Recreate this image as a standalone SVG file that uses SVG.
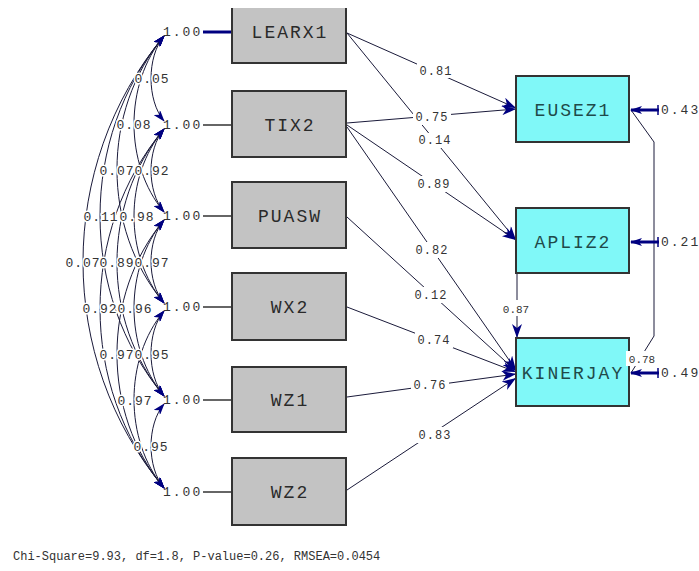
<svg xmlns="http://www.w3.org/2000/svg" width="699" height="571" viewBox="0 0 699 571">
<style>
.gbox{fill:#c3c3c3;stroke:#333;stroke-width:2}
.cbox{fill:#80f8f8;stroke:#333;stroke-width:2}
.gt{font-family:"Liberation Mono",monospace;font-size:18px;letter-spacing:2px;fill:#2a2a2a;text-anchor:middle}
.ct{font-family:"Liberation Mono",monospace;font-size:18px;letter-spacing:2px;fill:#1f4a4a;text-anchor:middle}
.one{font-family:"Liberation Mono",monospace;font-size:13px;letter-spacing:2px;fill:#333}
.cov{font-family:"Liberation Mono",monospace;font-size:13px;letter-spacing:1px;fill:#333;text-anchor:middle;stroke:#fff;stroke-width:3;paint-order:stroke;stroke-linejoin:round}
.pl{font-family:"Liberation Mono",monospace;font-size:12px;letter-spacing:1px;fill:#333;text-anchor:middle}
.sl{font-family:"Liberation Mono",monospace;font-size:11px;fill:#333;text-anchor:middle}
.bg{fill:#fff}
.arc{fill:none;stroke:#1a1a3a;stroke-width:1;marker-start:url(#ah);marker-end:url(#ah)}
.path{fill:none;stroke:#1a1a3a;stroke-width:1;marker-end:url(#big)}
.err{fill:none;stroke:#000080;stroke-width:3;marker-end:url(#ah)}
.tie{stroke:#333;stroke-width:1.5}
.foot{font-family:"Liberation Mono",monospace;font-size:12px;fill:#333}
</style>
<defs>
<marker id="ah" viewBox="0 0 12 8" refX="11" refY="4" markerWidth="12" markerHeight="8" markerUnits="userSpaceOnUse" orient="auto-start-reverse">
<path d="M0,0 L12,4 L0,8 L3,4 z" fill="#000080"/>
</marker>
<marker id="big" viewBox="0 0 14 10" refX="14" refY="5" markerWidth="14" markerHeight="10" markerUnits="userSpaceOnUse" orient="auto">
<path d="M0,0 L14,5 L0,10 L4,5 z" fill="#000080"/>
</marker>
</defs>
<rect width="699" height="571" fill="#fff"/>

<g id="connectors">
<path class="arc" d="M164,36 C146.7,56.8 146.7,100.2 164,121"/>
<path class="arc" d="M164,36 C124,84 124,164 164,212"/>
<path class="arc" d="M164,36 C101.3,111 101.3,228 164,303"/>
<path class="arc" d="M164,36 C78.7,138 78.7,294 164,396"/>
<path class="arc" d="M164,36 C56,166 56,358 164,488"/>
<path class="arc" d="M164,129 C146.7,149.8 146.7,191.2 164,212"/>
<path class="arc" d="M164,129 C124,177 124,255 164,303"/>
<path class="arc" d="M164,129 C101.3,204 101.3,321 164,396"/>
<path class="arc" d="M164,129 C78.7,231 78.7,386 164,488"/>
<path class="arc" d="M164,220 C146.7,240.8 146.7,282.2 164,303"/>
<path class="arc" d="M164,220 C124,268 124,348 164,396"/>
<path class="arc" d="M164,220 C101.3,295 101.3,413 164,488"/>
<path class="arc" d="M164,311 C146.7,331.8 146.7,375.2 164,396"/>
<path class="arc" d="M164,311 C124,359 124,440 164,488"/>
<path class="arc" d="M164,404 C146.7,424.8 146.7,467.2 164,488"/>
<text class="cov" x="152" y="83">0.05</text>
<text class="cov" x="134" y="129">0.08</text>
<text class="cov" x="117" y="175">0.07</text>
<text class="cov" x="152" y="175">0.92</text>
<text class="cov" x="101" y="221">0.11</text>
<text class="cov" x="137" y="221">0.98</text>
<text class="cov" x="83" y="267">0.07</text>
<text class="cov" x="117" y="267">0.89</text>
<text class="cov" x="152" y="267">0.97</text>
<text class="cov" x="100" y="313">0.92</text>
<text class="cov" x="135" y="313">0.96</text>
<text class="cov" x="117" y="359">0.97</text>
<text class="cov" x="152" y="359">0.95</text>
<text class="cov" x="135" y="405">0.97</text>
<text class="cov" x="151" y="451">0.95</text>

<line x1="203" y1="32" x2="232" y2="32" stroke="#000080" stroke-width="3"/>
<line class="tie" x1="203" y1="125" x2="232" y2="125"/>
<line class="tie" x1="203" y1="216" x2="232" y2="216"/>
<line class="tie" x1="203" y1="307" x2="232" y2="307"/>
<line class="tie" x1="203" y1="400" x2="232" y2="400"/>
<line class="tie" x1="203" y1="492" x2="232" y2="492"/>

<path class="path" d="M347,33 L516,108"/>
<path class="path" d="M347,123 L516,109"/>
<path class="path" d="M347,33 L516,240"/>
<path class="path" d="M347,125 L516,240"/>
<path class="path" d="M347,127 L516,370"/>
<path class="path" d="M347,217 L516,371"/>
<path class="path" d="M347,307 L516,372"/>
<path class="path" d="M347,397 L516,374"/>
<path class="path" d="M347,490 L516,378"/>
<path class="path" d="M517,273 L517,338" marker-end="url(#ah)"/>
<rect class="bg" x="417" y="62" width="38" height="16"/>
<rect class="bg" x="413" y="109" width="38" height="16"/>
<rect class="bg" x="416" y="133" width="38" height="15"/>
<rect class="bg" x="415" y="176" width="38" height="16"/>
<rect class="bg" x="413" y="242" width="38" height="16"/>
<rect class="bg" x="412" y="287" width="38" height="16"/>
<rect class="bg" x="415" y="332" width="38" height="16"/>
<rect class="bg" x="411" y="377" width="38" height="16"/>
<rect class="bg" x="416" y="427" width="38" height="16"/>
<rect class="bg" x="500" y="300" width="33" height="16"/>
<text class="pl" x="436" y="75">0.81</text>
<text class="pl" x="432" y="121">0.75</text>
<text class="pl" x="435" y="144">0.14</text>
<text class="pl" x="434" y="188">0.89</text>
<text class="pl" x="432" y="254">0.82</text>
<text class="pl" x="431" y="299">0.12</text>
<text class="pl" x="434" y="344">0.74</text>
<text class="pl" x="430" y="389">0.76</text>
<text class="pl" x="435" y="439">0.83</text>
<text class="sl" x="516" y="313">0.87</text>

<path d="M631,110 L654,142 L654,336 L631,373" fill="none" stroke="#1a1a3a" stroke-width="1"/>

<path class="err" d="M659,110 L631,110"/>
<path class="err" d="M659,242 L631,242"/>
<path class="err" d="M659,373 L631,373"/>
<line x1="658" y1="105" x2="658" y2="115" stroke="#000080" stroke-width="1.5"/>
<line x1="658" y1="237" x2="658" y2="247" stroke="#000080" stroke-width="1.5"/>
<line x1="658" y1="368" x2="658" y2="378" stroke="#000080" stroke-width="1.5"/>
</g>

<g id="n-LEARX1">
<rect x="232" y="8" width="114" height="55" fill="#c3c3c3"/>
<path d="M232,8 V63 H346 V8" fill="none" stroke="#333" stroke-width="2"/>
<text class="gt" x="290" y="38">LEARX1</text>
<text class="one" x="163" y="36">1.00</text>
</g>
<g id="n-TIX2">
<rect class="gbox" x="232" y="91" width="114" height="66"/>
<text class="gt" x="290" y="131">TIX2</text>
<text class="one" x="163" y="129">1.00</text>
</g>
<g id="n-PUASW">
<rect class="gbox" x="232" y="182" width="114" height="66"/>
<text class="gt" x="290" y="222">PUASW</text>
<text class="one" x="163" y="220">1.00</text>
</g>
<g id="n-WX2">
<rect class="gbox" x="232" y="273" width="114" height="67"/>
<text class="gt" x="290" y="313">WX2</text>
<text class="one" x="163" y="311">1.00</text>
</g>
<g id="n-WZ1">
<rect class="gbox" x="232" y="367" width="114" height="65"/>
<text class="gt" x="290" y="406">WZ1</text>
<text class="one" x="163" y="404">1.00</text>
</g>
<g id="n-WZ2">
<rect class="gbox" x="232" y="458" width="114" height="67"/>
<text class="gt" x="290" y="498">WZ2</text>
<text class="one" x="163" y="496">1.00</text>
</g>

<g id="n-EUSEZ1">
<rect class="cbox" x="516" y="76" width="113" height="66"/>
<text class="ct" x="573" y="116">EUSEZ1</text>
<text class="one" x="661" y="114">0.43</text>
</g>
<g id="n-APLIZ2">
<rect class="cbox" x="516" y="208" width="113" height="65"/>
<text class="ct" x="573" y="248">APLIZ2</text>
<text class="one" x="661" y="246">0.21</text>
</g>
<g id="n-KINERJAY">
<rect class="cbox" x="516" y="338" width="113" height="68"/>
<text class="ct" x="573" y="379">KINERJAY</text>
<text class="one" x="661" y="377">0.49</text>
</g>
<rect class="bg" x="626" y="351" width="32" height="15"/>
<text class="sl" x="642" y="363">0.78</text>

<text class="foot" x="13" y="560">Chi-Square=9.93, df=1.8, P-value=0.26, RMSEA=0.0454</text>
</svg>
